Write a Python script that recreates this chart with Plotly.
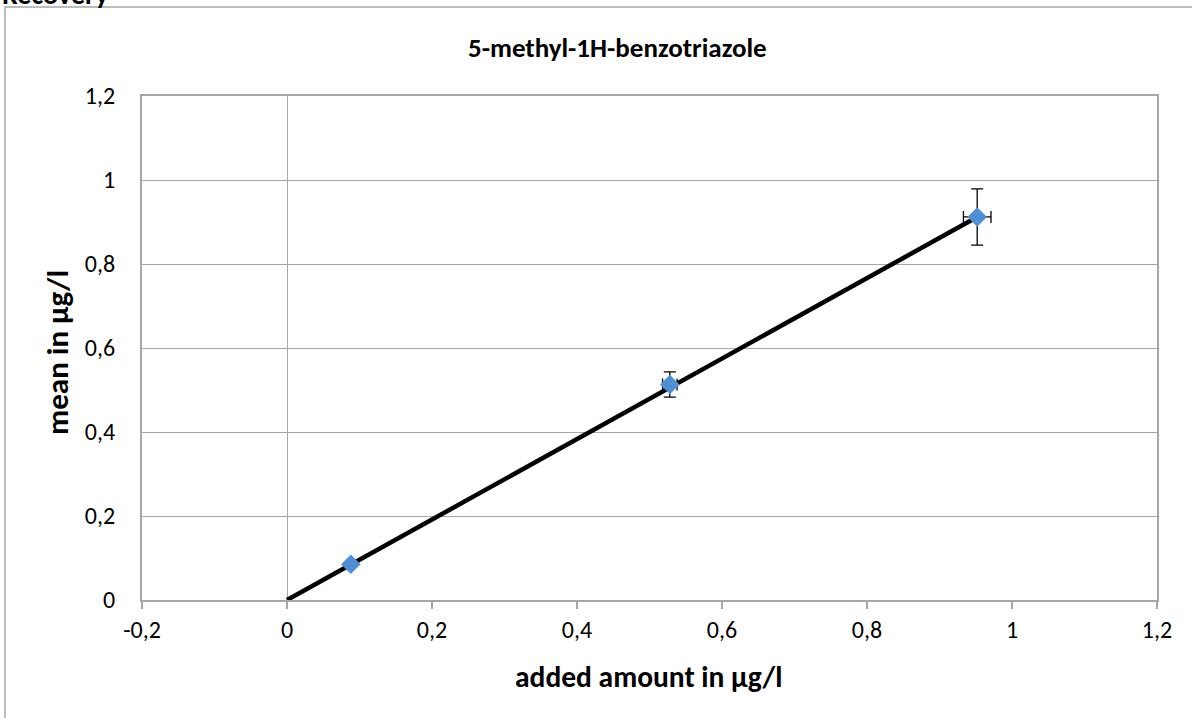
import plotly.graph_objects as go

# data
added = [0.088, 0.528, 0.952]
mean = [0.085, 0.513, 0.912]
err_y = [0.002, 0.030, 0.067]
err_x = [0.002, 0.010, 0.019]
trend_x = [0.0, 0.952]
trend_y = [0.0, 0.912]
x_tickvals = [-0.2, 0, 0.2, 0.4, 0.6, 0.8, 1, 1.2]
x_ticktext = ["-0,2", "0", "0,2", "0,4", "0,6", "0,8", "1", "1,2"]

font = "Carlito, Calibri, Lato, sans-serif"
L, R, T, B = 142, 1157, 96, 600
W, H = 1192, 718

fig = go.Figure()
fig.add_trace(go.Scatter(
    x=trend_x, y=trend_y, mode="lines",
    line=dict(color="black", width=4.5), showlegend=False, hoverinfo="skip"))
fig.add_trace(go.Scatter(
    x=added, y=mean, mode="markers",
    marker=dict(symbol="diamond", size=15, color="#4F8FD6"),
    error_y=dict(type="data", array=err_y, visible=True, color="black", thickness=1.3, width=6),
    error_x=dict(type="data", array=err_x, visible=True, color="black", thickness=1.3, width=6),
    showlegend=False))

def px(xp):
    return (xp - L) / (R - L)

def py(yp):
    return (B - yp) / (B - T)

fig.update_layout(
    width=W, height=H,
    margin=dict(l=L, r=W - R, t=T, b=H - B),
    paper_bgcolor="white", plot_bgcolor="white",
    separators=",.",
    font=dict(family=font, size=24, color="black"),
    xaxis=dict(range=[-0.2, 1.2], tickvals=x_tickvals, ticktext=x_ticktext, showgrid=False,
               zeroline=True, zerolinecolor="#A6A6A6", zerolinewidth=1.3,
               showline=True, linecolor="#A6A6A6", linewidth=2, mirror=True,
               ticks="outside", ticklen=7, tickcolor="#A6A6A6", tickwidth=1.5,
               tickfont=dict(size=24)),
    yaxis=dict(range=[0, 1.2], dtick=0.2, showgrid=True, gridcolor="#A6A6A6", gridwidth=1.3,
               zeroline=False, showline=True, linecolor="#A6A6A6", linewidth=2, mirror=True,
               ticks="outside", ticklen=20, tickcolor="rgba(0,0,0,0)",
               tickfont=dict(size=24)),
    shapes=[dict(type="rect", xref="paper", yref="paper",
                 x0=px(5), x1=px(1260), y0=py(780), y1=py(7),
                 line=dict(color="#A6A6A6", width=1.5), fillcolor="rgba(0,0,0,0)", layer="below")],
    annotations=[
        dict(text="<b>Recovery</b>", xref="paper", yref="paper",
             x=px(0), y=py(-6), xanchor="left", yanchor="middle",
             showarrow=False, font=dict(size=28, family=font)),
        dict(text="<b>5-methyl-1H-benzotriazole</b>", xref="paper", yref="paper",
             x=px(617), y=py(48), xanchor="center", yanchor="middle",
             showarrow=False, font=dict(size=27, family=font)),
        dict(text="<b>added amount in µg/l</b>", xref="paper", yref="paper",
             x=px(648), y=py(677), xanchor="center", yanchor="middle",
             showarrow=False, font=dict(size=29.5, family=font)),
        dict(text="<b>mean in µg/l</b>", xref="paper", yref="paper",
             x=px(57), y=py(353), xanchor="center", yanchor="middle", textangle=-90,
             showarrow=False, font=dict(size=31, family=font)),
    ],
)

fig.write_html("out.html", config={"displayModeBar": False},
               post_script="document.body.style.margin='0';")
